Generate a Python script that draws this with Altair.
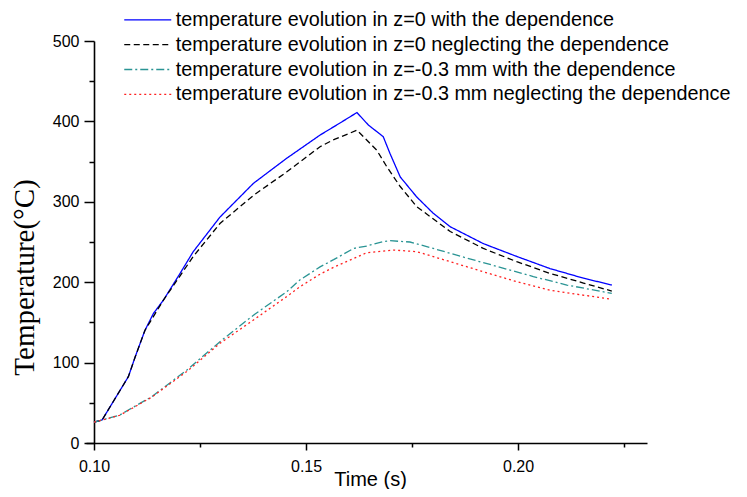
import altair as alt
import pandas as pd

series_names = [
    "temperature evolution in z=0 with the dependence",
    "temperature evolution in z=0 neglecting the dependence",
    "temperature evolution in z=-0.3 mm with the dependence",
    "temperature evolution in z=-0.3 mm neglecting the dependence",
]

# z=0, with dependence (blue solid)
t_blue = [0.1000, 0.1019, 0.1081, 0.1097, 0.1120, 0.1140, 0.1164, 0.1203, 0.1234, 0.1297,
          0.1376, 0.1454, 0.1533, 0.1580, 0.1620, 0.1647, 0.1682, 0.1698, 0.1722, 0.1761,
          0.1800, 0.1840, 0.1918, 0.1997, 0.2075, 0.2154, 0.2221]
T_blue = [26, 28.6, 82.5, 107, 140, 161, 178, 211, 238, 281,
          323, 354, 383, 398, 411, 395.5, 381, 360, 331, 306,
          285.7, 269, 248, 232, 217, 205, 196.5]

# z=0, neglecting dependence (black dashed)
t_black = [0.1000, 0.1019, 0.1081, 0.1097, 0.1120, 0.1164, 0.1203, 0.1234, 0.1297, 0.1376,
           0.1454, 0.1533, 0.1564, 0.1620, 0.1639, 0.1667, 0.1690, 0.1722, 0.1761, 0.1840,
           0.1918, 0.1997, 0.2075, 0.2154, 0.2221]
T_black = [26, 28.6, 82.5, 107, 140, 178, 208, 232, 273, 308,
           337, 368.5, 377, 389, 379, 364, 344, 319, 294, 263,
           242, 225.5, 211, 199, 189]

# z=-0.3 mm, with dependence (teal dash-dot)
t_teal = [0.1000, 0.1019, 0.1061, 0.1081, 0.1136, 0.1219, 0.1297, 0.1376, 0.1454, 0.1486,
          0.1533, 0.1565, 0.1612, 0.1643, 0.1682, 0.1698, 0.1745, 0.1800, 0.1879, 0.1958,
          0.2036, 0.2115, 0.2221]
T_teal = [26, 28.6, 34.8, 41, 57.6, 90.8, 126, 159, 188, 203,
          219, 228, 242, 245, 250.5, 251.6, 250, 242, 230, 218.5,
          207, 196.5, 186]

# z=-0.3 mm, neglecting dependence (red dotted)
t_red = [0.1000, 0.1019, 0.1061, 0.1081, 0.1136, 0.1219, 0.1297, 0.1376, 0.1454, 0.1486,
         0.1533, 0.1565, 0.1643, 0.1706, 0.1761, 0.1840, 0.1918, 0.1997, 0.2075, 0.2221]
T_red = [26, 28.6, 34.5, 40.5, 57, 89, 124, 153, 182, 194.5,
         210, 218.5, 236.7, 240, 238, 225.5, 213, 200.6, 190, 178.7]

colors = ["#0000ff", "#000000", "#2a9494", "#ff2020"]
dashes = [[1, 0], [6, 3.5], [8, 3, 2, 3], [2, 3]]

x_major = [0.10, 0.15, 0.20]
x_minor = [0.125, 0.175, 0.225]
y_major = [0, 100, 200, 300, 400, 500]
y_minor = [50, 150, 250, 350, 450]

rows = []
for name, ts, Ts in zip(series_names, [t_blue, t_black, t_teal, t_red],
                        [T_blue, T_black, T_teal, T_red]):
    for t, T in zip(ts, Ts):
        rows.append({"series": name, "t": t, "T": T})
df = pd.DataFrame(rows)

legend_cfg = alt.Legend(
    title=None, orient="none", legendX=51.85, legendY=-31,
    symbolType="M-4.7,0H4.7", symbolSize=100, symbolStrokeWidth=1.3,
    labelFontSize=19.8, labelFont="Liberation Sans", labelColor="black",
    labelLimit=1000, labelOffset=18, rowPadding=3.8, padding=0,
)

xscale = alt.Scale(domain=[0.09811, 0.2304], nice=False, zero=False)
yscale = alt.Scale(domain=[0, 500], nice=False)

base = alt.Chart(df)

lines = base.mark_line(strokeWidth=1.3).encode(
    x=alt.X("t:Q", scale=xscale, axis=alt.Axis(
        values=x_major, format=".2f", title="Time (s)", tickSize=7, labelPadding=8,
        labelFontSize=16, labelFont="Liberation Sans", labelColor="black",
        domainColor="black", tickColor="black", domainWidth=1.6, tickWidth=1.5,
        grid=False, titleFont="Liberation Sans", titleFontSize=20,
        titleFontWeight="normal", titleColor="black", titleX=284, titleY=42,
        titleAlign="center", titleBaseline="alphabetic")),
    y=alt.Y("T:Q", scale=yscale, axis=alt.Axis(
        values=y_major, format="d", title="Temperature(°C)", tickSize=10, labelPadding=5,
        labelFontSize=16, labelFont="Liberation Sans", labelColor="black",
        domainColor="black", tickColor="black", domainWidth=1.6, tickWidth=1.5,
        grid=False, offset=-8, titleFont="Liberation Serif", titleFontSize=29,
        titleFontWeight="normal", titleColor="black", titleAngle=270,
        titleX=-61, titleY=236, titleAlign="center", titleBaseline="alphabetic")),
    color=alt.Color("series:N", scale=alt.Scale(domain=series_names, range=colors),
                    legend=legend_cfg),
    strokeDash=alt.StrokeDash("series:N", scale=alt.Scale(domain=series_names, range=dashes),
                              legend=legend_cfg),
)

minor = base.mark_point(opacity=0).encode(
    x=alt.X("t:Q", scale=xscale, axis=alt.Axis(
        values=x_minor, orient="bottom", labels=False, domain=False, tickSize=4,
        tickWidth=1.5, tickColor="black", grid=False, title=None)),
    y=alt.Y("T:Q", scale=yscale, axis=alt.Axis(
        values=y_minor, orient="left", labels=False, domain=False, tickSize=5,
        tickWidth=1.5, tickColor="black", grid=False, title=None, offset=-8)),
)

chart = alt.layer(lines, minor).resolve_axis(
    x="independent", y="independent"
).properties(
    width=561, height=402,
    padding={"left": 78, "top": 33, "right": 92, "bottom": 46},
    autosize=alt.AutoSizeParams(type="none"),
    background="white",
).configure_view(stroke=None)

chart.save("out.html", embed_options={"renderer": "svg", "actions": False})
